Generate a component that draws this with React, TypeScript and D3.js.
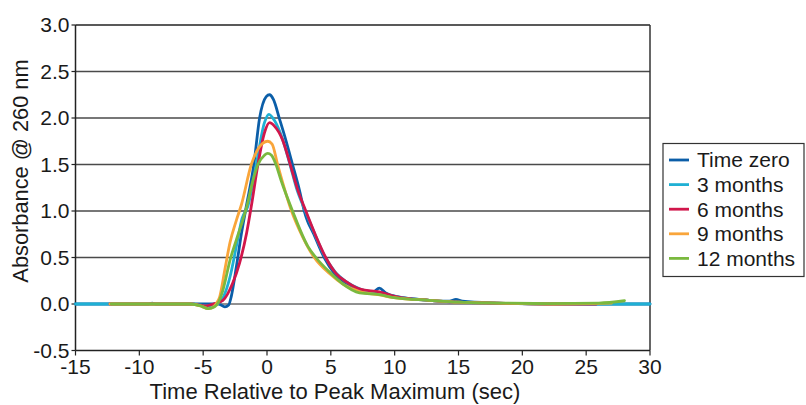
import React from "react";
import * as d3 from "d3";

type Pt = [number, number];

const xTicks = [-15, -10, -5, 0, 5, 10, 15, 20, 25, 30];
const yTicks = [-0.5, 0, 0.5, 1.0, 1.5, 2.0, 2.5, 3.0];
const seriesNames = ["Time zero", "3 months", "6 months", "9 months", "12 months"];
const seriesColors = ["#0b5ea8", "#1fb0d4", "#d1164b", "#f9a53a", "#7ab93f"];

const timeZero: Pt[] = [
  [-15, 0], [-9.3, 0], [-9.0, 0.01], [-8.7, 0], [-3.8, 0], [-3.3, -0.03], [-3.0, -0.01],
  [-2.8, 0.08], [-2.4, 0.4], [-2.0, 0.76], [-1.62, 1.05], [-1.03, 1.5], [-0.58, 2.0],
  [-0.06, 2.23], [0.2, 2.25], [0.5, 2.2], [1.0, 1.98], [1.48, 1.76], [2.0, 1.5], [2.53, 1.23],
  [2.92, 1.0], [3.18, 0.89], [3.6, 0.77], [4.48, 0.5], [5.27, 0.33], [6.2, 0.22], [7.3, 0.15],
  [8.3, 0.13], [8.8, 0.17], [9.3, 0.12], [10, 0.085], [12.7, 0.04], [14.3, 0.03], [14.8, 0.05],
  [15.3, 0.03], [18, 0.01], [22, 0], [30, 0],
];
const months3: Pt[] = [
  [-15, 0], [-6, 0], [-4.6, -0.02], [-3.9, 0], [-3.4, 0.08], [-2.9, 0.29], [-2.4, 0.62],
  [-1.95, 0.92], [-1.5, 1.05], [-0.84, 1.5], [-0.2, 1.95], [0.15, 2.04], [0.6, 1.97],
  [1.2, 1.78], [1.8, 1.5], [2.3, 1.25], [3.0, 1.0], [3.6, 0.8], [4.5, 0.52], [5.3, 0.35],
  [6.2, 0.24], [7.3, 0.16], [8.7, 0.12], [10.1, 0.08], [12.7, 0.04], [15, 0.02], [18, 0.01],
  [22, 0], [30, 0],
];
const months6: Pt[] = [
  [-12.3, 0], [-6, 0], [-4.8, -0.02], [-4.2, 0], [-3.45, 0.04], [-2.7, 0.22], [-2.15, 0.44],
  [-1.6, 0.76], [-1.23, 1.05], [-0.71, 1.5], [-0.2, 1.84], [0.2, 1.95], [0.6, 1.91],
  [1.22, 1.765], [1.82, 1.5], [2.4, 1.23], [3.04, 1.0], [3.8, 0.74], [4.6, 0.5], [5.4, 0.33],
  [6.2, 0.24], [7.3, 0.16], [8.8, 0.13], [10.1, 0.08], [12.7, 0.04], [15, 0.02], [18, 0.01],
  [22, 0], [25.8, 0],
];
const months9: Pt[] = [
  [-12.3, 0], [-6, 0], [-5.2, -0.02], [-4.6, -0.05], [-4.2, -0.03], [-3.9, 0.02], [-3.7, 0.08],
  [-3.3, 0.37], [-2.9, 0.66], [-2.4, 0.9], [-2.0, 1.07], [-1.23, 1.5], [-0.32, 1.73],
  [0.05, 1.75], [0.4, 1.72], [0.83, 1.5], [1.92, 1.0], [2.8, 0.72], [3.7, 0.5], [4.87, 0.33],
  [6, 0.21], [7.3, 0.13], [8.7, 0.1], [10.1, 0.065], [12.7, 0.04], [15, 0.02], [18, 0.01],
  [22, 0], [27, 0.01],
];
const months12: Pt[] = [
  [-12.2, 0], [-6, 0], [-5.2, -0.02], [-4.6, -0.05], [-4.1, -0.03], [-3.8, 0.02], [-3.45, 0.15],
  [-2.9, 0.47], [-2.4, 0.69], [-1.9, 0.9], [-1.62, 1.03], [-1.1, 1.33], [-0.71, 1.5],
  [-0.2, 1.6], [0.05, 1.62], [0.35, 1.6], [0.7, 1.5], [1.1, 1.33], [2.0, 1.0], [3.2, 0.62],
  [3.83, 0.5], [5.0, 0.33], [5.9, 0.22], [7.25, 0.12], [8.8, 0.1], [10.1, 0.065], [12.7, 0.04],
  [15, 0.02], [18, 0.01], [22, 0.005], [26, 0.01], [28, 0.035],
];
const seriesData = [timeZero, months3, months6, months9, months12];

const W = 806;
const H = 405;
const left = 75.5;
const right = 650;
const top = 25;
const bottom = 350.5;
const font = "'Liberation Sans', Arial, Helvetica, sans-serif";
const fs = 21;

export default function App() {
  const x = d3.scaleLinear().domain([-15, 30]).range([left, right]);
  const y = d3.scaleLinear().domain([-0.5, 3.0]).range([bottom, top]);
  const line = d3
    .line<Pt>()
    .x((d) => x(d[0]))
    .y((d) => y(d[1]))
    .curve(d3.curveMonotoneX);

  return (
    <svg
      width={W}
      height={H}
      style={{ position: "absolute", left: 0, top: 0, background: "#fff" }}
      fontFamily={font}
    >
      {yTicks
        .filter((t) => t > -0.5)
        .map((t) => (
          <line
            key={"g" + t}
            x1={left}
            x2={right}
            y1={y(t)}
            y2={y(t)}
            stroke={t === 0 || t === 3 ? "#222" : "#4a4a4a"}
            strokeWidth={t === 0 ? 1 : 1.6}
          />
        ))}
      <line x1={left} x2={left} y1={top} y2={bottom} stroke="#222" strokeWidth={1.5} />
      <line x1={right} x2={right} y1={top} y2={bottom} stroke="#333" strokeWidth={1.5} />
      <line x1={left} x2={right} y1={bottom} y2={bottom} stroke="#222" strokeWidth={1.5} />
      {yTicks.map((t) => (
        <g key={"y" + t}>
          <line x1={left - 4} x2={left} y1={y(t)} y2={y(t)} stroke="#222" strokeWidth={1.2} />
          <text
            x={left - 6}
            y={y(t)}
            dy="0.35em"
            textAnchor="end"
            fontSize={fs}
            fill="#1a1a1a"
          >
            {t.toFixed(1)}
          </text>
        </g>
      ))}
      {xTicks.map((t) => (
        <g key={"x" + t}>
          <line x1={x(t)} x2={x(t)} y1={bottom} y2={bottom + 5} stroke="#222" strokeWidth={1.2} />
          <text x={x(t)} y={374} textAnchor="middle" fontSize={fs} fill="#1a1a1a">
            {t}
          </text>
        </g>
      ))}
      <text x={335} y={399} textAnchor="middle" fontSize={22} fill="#1a1a1a">
        Time Relative to Peak Maximum (sec)
      </text>
      <text
        transform={`translate(28, ${171}) rotate(-90)`}
        textAnchor="middle"
        fontSize={21.8}
        fill="#1a1a1a"
      >
        Absorbance @ 260 nm
      </text>
      {seriesData.map((d, i) => (
        <path
          key={seriesNames[i]}
          d={line(d) || ""}
          fill="none"
          stroke={seriesColors[i]}
          strokeWidth={2.8}
          strokeLinejoin="round"
          strokeLinecap="round"
        />
      ))}
      <rect x={663} y={143.5} width={141} height={133} fill="#fff" stroke="#333" strokeWidth={1.2} />
      {seriesNames.map((n, i) => (
        <g key={"l" + n} transform={`translate(0, ${160 + i * 24.6})`}>
          <line x1={669} x2={689} y1={0} y2={0} stroke={seriesColors[i]} strokeWidth={2.8} />
          <text x={697} y={0} dy="0.35em" fontSize={fs} fill="#1a1a1a">
            {n}
          </text>
        </g>
      ))}
    </svg>
  );
}
